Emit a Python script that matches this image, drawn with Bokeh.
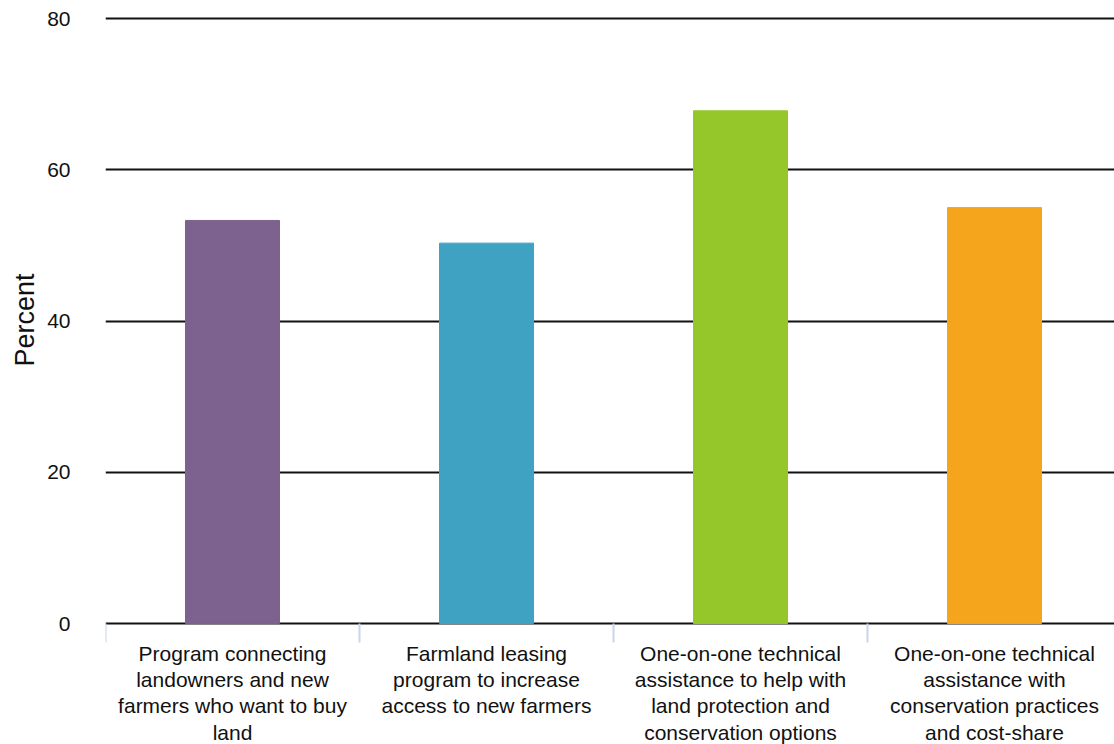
from bokeh.plotting import figure
from bokeh.models import Range1d, FixedTicker, ColumnDataSource, Title
from bokeh.core.properties import value
from bokeh.embed import file_html
from bokeh.resources import INLINE

categories = [
    "Program connecting\nlandowners and new\nfarmers who want to buy\nland",
    "Farmland leasing\nprogram to increase\naccess to new farmers",
    "One-on-one technical\nassistance to help with\nland protection and\nconservation options",
    "One-on-one technical\nassistance with\nconservation practices\nand cost-share",
]
values = [53.3, 50.3, 67.8, 55.0]
colors = ["#7D618E", "#40A2C2", "#95C72A", "#F4A51C"]
y_ticks = [0, 20, 40, 60, 80]
y_title = "Percent"

FONT = "Liberation Sans"
W, H = 1114, 744
LEFT_BORDER = 105
TOP_BORDER = 15
CAT_PX = 254.0                     # width of one category band in px
PX_PER_UNIT = 605 / 80.0           # vertical scale of the value axis
TICK_LEN = 19 / PX_PER_UNIT        # category tick length in data units
LABEL_GAP = 18 / PX_PER_UNIT       # gap from baseline to label top

n = len(categories)
centers = [i + 0.5 for i in range(n)]
bounds = list(range(n))

frame_w = W - LEFT_BORDER
frame_h = H - TOP_BORDER
y_top = 80.4
y_bottom = y_top - frame_h / PX_PER_UNIT

src = ColumnDataSource(dict(x=centers, top=values, color=colors))
lab = ColumnDataSource(dict(x=centers, y=[-LABEL_GAP] * n, text=categories))
tk = ColumnDataSource(dict(x=bounds, y0=[0] * n, y1=[-TICK_LEN] * n))

p = figure(width=W, height=H, output_backend="svg", toolbar_location=None,
           x_range=Range1d(0, frame_w / CAT_PX), y_range=Range1d(y_bottom, y_top),
           min_border_left=LEFT_BORDER, min_border_right=0, min_border_top=TOP_BORDER,
           min_border_bottom=0)
p.outline_line_color = None
p.background_fill_color = "white"
p.xaxis.visible = False

p.vbar(x="x", top="top", width=0.37, color="color", source=src)
p.segment(x0="x", x1="x", y0="y0", y1="y1", source=tk, line_color="#C9D5EA", line_width=2)
p.text(x="x", y="y", text="text", source=lab, text_align="center", text_baseline="top",
       text_font=value(FONT), text_font_size="21px", text_color="#111111", text_line_height=1.15)

# y axis
p.yaxis.ticker = FixedTicker(ticks=y_ticks)
p.yaxis.axis_line_color = None
p.yaxis.major_tick_line_color = None
p.yaxis.minor_tick_line_color = None
p.yaxis.major_label_standoff = 29
p.yaxis.major_label_text_font = FONT
p.yaxis.major_label_text_font_size = "21px"
p.yaxis.major_label_text_color = "#111111"

# y title, placed as a left-side title so it can sit beside the 0-80 band
p.add_layout(Title(text=y_title, align="right", offset=258,
                   text_font=FONT, text_font_size="27px", text_font_style="normal",
                   text_color="#111111", standoff=10), "left")

p.ygrid.ticker = FixedTicker(ticks=y_ticks)
p.ygrid.grid_line_color = "#111111"
p.ygrid.grid_line_width = 2
p.xgrid.grid_line_color = None

open("out.html", "w").write(file_html(p, INLINE))
